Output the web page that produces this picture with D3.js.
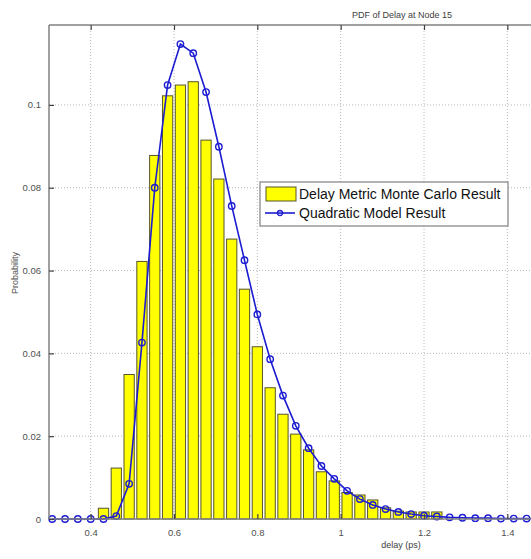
<!DOCTYPE html>
<html>
<head>
<meta charset="utf-8">
<script src="https://cdn.jsdelivr.net/npm/d3@7"></script>
<style>
  html, body { margin: 0; padding: 0; background: #fff; overflow: hidden; }
  svg { display: block; }
</style>
</head>
<body>
<div id="chart"></div>
<script>
// bin centres shared by the histogram and the model curve
const binCenters = [
  0.3077, 0.3385, 0.3692, 0.4000, 0.4308, 0.4615, 0.4923, 0.5231, 0.5538, 0.5846,
  0.6154, 0.6462, 0.6769, 0.7077, 0.7385, 0.7692, 0.8000, 0.8308, 0.8615, 0.8923,
  0.9231, 0.9538, 0.9846, 1.0154, 1.0462, 1.0769, 1.1077, 1.1385, 1.1692, 1.2000,
  1.2308, 1.2615, 1.2923, 1.3231, 1.3538, 1.3846, 1.4154, 1.4462, 1.4769
];
const monteCarlo = [
  0, 0, 0, 0, 0.0026, 0.0123, 0.0349, 0.0622, 0.0878, 0.1022,
  0.1048, 0.1056, 0.0915, 0.0821, 0.0676, 0.0555, 0.0416, 0.0317, 0.0253, 0.0205,
  0.0167, 0.0114, 0.0092, 0.0064, 0.0058, 0.0046, 0.0027, 0.0019, 0.0017, 0.0017,
  0.0017, 0, 0, 0, 0, 0, 0, 0, 0
];
const quadratic = [
  0, 0, 0, 0, 0, 0.0007, 0.0085, 0.0426, 0.0800, 0.1048,
  0.1147, 0.1125, 0.1031, 0.0899, 0.0756, 0.0625, 0.0494, 0.0386, 0.0298, 0.0225,
  0.0171, 0.0128, 0.0097, 0.0068, 0.0048, 0.0034, 0.0024, 0.0017, 0.0012, 0.0008,
  0.0006, 0.0004, 0.0003, 0.0002, 0.0002, 0.0001, 0.0001, 0.0001, 0
];
const xTicks = [0.4, 0.6, 0.8, 1.0, 1.2, 1.4];
const xTickLabels = ['0.4', '0.6', '0.8', '1', '1.2', '1.4'];
const yTicks = [0, 0.02, 0.04, 0.06, 0.08, 0.1];
const yTickLabels = ['0', '0.02', '0.04', '0.06', '0.08', '0.1'];
const seriesNames = ['Delay Metric Monte Carlo Result', 'Quadratic Model Result'];

const width = 531;
const height = 559;
const margin = { top: 25, right: -18, bottom: 40, left: 49 };
const binWidth = 0.03077;
const blue = '#1c1cd2';

const svg = d3.select('#chart')
  .append('svg')
  .attr('width', width)
  .attr('height', height)
  .style('font-family', 'Arial, "Liberation Sans", sans-serif');

const x = d3.scaleLinear().domain([0.3, 1.5]).range([margin.left, width - margin.right]);
const y = d3.scaleLinear().domain([0, 0.1193]).range([height - margin.bottom, margin.top]);

// dotted grid
const grid = svg.append('g');
grid.selectAll('.vgrid')
  .data(xTicks)
  .enter()
  .append('line')
  .attr('x1', (d) => x(d)).attr('x2', (d) => x(d))
  .attr('y1', y.range()[1]).attr('y2', y.range()[0])
  .attr('stroke', '#b8b8b8')
  .attr('stroke-width', 1)
  .attr('stroke-dasharray', '1,2');
grid.selectAll('.hgrid')
  .data(yTicks.slice(1))
  .enter()
  .append('line')
  .attr('x1', x.range()[0]).attr('x2', x.range()[1])
  .attr('y1', (d) => y(d)).attr('y2', (d) => y(d))
  .attr('stroke', '#b8b8b8')
  .attr('stroke-width', 1)
  .attr('stroke-dasharray', '1,2');

// histogram bars
const bars = binCenters.map((c, i) => ({ c, v: monteCarlo[i] })).filter((d) => d.v > 0);
svg.append('g')
  .selectAll('rect')
  .data(bars)
  .enter()
  .append('rect')
  .attr('x', (d) => x(d.c - binWidth * 0.4))
  .attr('width', (d) => x(d.c + binWidth * 0.4) - x(d.c - binWidth * 0.4))
  .attr('y', (d) => y(d.v))
  .attr('height', (d) => y(0) - y(d.v))
  .attr('fill', '#ffff00')
  .attr('stroke', '#55552a')
  .attr('stroke-width', 1);

// model curve
const pts = binCenters.map((c, i) => [c, quadratic[i]]);
const line = d3.line().x((d) => x(d[0])).y((d) => y(d[1]));
svg.append('path')
  .datum(pts)
  .attr('d', line)
  .attr('fill', 'none')
  .attr('stroke', blue)
  .attr('stroke-width', 1.6);
svg.append('g')
  .selectAll('circle')
  .data(pts)
  .enter()
  .append('circle')
  .attr('cx', (d) => x(d[0]))
  .attr('cy', (d) => y(d[1]))
  .attr('r', 3.2)
  .attr('fill', 'none')
  .attr('stroke', blue)
  .attr('stroke-width', 1.4);

// axes box (MATLAB style, inward ticks)
const axisColor = '#808080';
svg.append('line')
  .attr('x1', x.range()[0]).attr('x2', x.range()[0])
  .attr('y1', y.range()[1]).attr('y2', y.range()[0])
  .attr('stroke', axisColor).attr('stroke-width', 1.5);
svg.append('line')
  .attr('x1', x.range()[0]).attr('x2', x.range()[1])
  .attr('y1', y.range()[1]).attr('y2', y.range()[1])
  .attr('stroke', axisColor).attr('stroke-width', 1.5);
svg.append('line')
  .attr('x1', x.range()[0]).attr('x2', x.range()[1])
  .attr('y1', y.range()[0]).attr('y2', y.range()[0])
  .attr('stroke', axisColor).attr('stroke-width', 1.5);

const xAxisBottom = d3.axisBottom(x).tickValues(xTicks).tickSizeInner(-5).tickSizeOuter(0)
  .tickPadding(10).tickFormat((d, i) => xTickLabels[i]);
const gxb = svg.append('g')
  .attr('transform', `translate(0,${y.range()[0]})`)
  .call(xAxisBottom);
const xAxisTop = d3.axisTop(x).tickValues(xTicks).tickSizeInner(-5).tickSizeOuter(0).tickFormat('');
const gxt = svg.append('g')
  .attr('transform', `translate(0,${y.range()[1]})`)
  .call(xAxisTop);
const yAxis = d3.axisLeft(y).tickValues(yTicks).tickSizeInner(-5).tickSizeOuter(0)
  .tickPadding(8).tickFormat((d, i) => yTickLabels[i]);
const gy = svg.append('g')
  .attr('transform', `translate(${x.range()[0]},0)`)
  .call(yAxis);

[gxb, gxt, gy].forEach((g) => {
  g.select('.domain').remove();
  g.selectAll('.tick line').attr('stroke', '#404040').attr('stroke-width', 1.2);
  g.selectAll('.tick text')
    .attr('fill', '#505050')
    .style('font-size', '9.5px');
});

// titles
svg.append('text')
  .attr('x', 402).attr('y', 18)
  .attr('text-anchor', 'middle')
  .attr('fill', '#404040')
  .style('font-size', '9px')
  .text('PDF of Delay at Node 15');
svg.append('text')
  .attr('x', 401).attr('y', 548)
  .attr('text-anchor', 'middle')
  .attr('fill', '#404040')
  .style('font-size', '9px')
  .text('delay (ps)');
svg.append('text')
  .attr('transform', 'translate(18,273) rotate(-90)')
  .attr('text-anchor', 'middle')
  .attr('fill', '#505050')
  .style('font-size', '9px')
  .text('Probability');

// legend
const lg = svg.append('g').attr('transform', 'translate(260,182)');
lg.append('rect')
  .attr('width', 248).attr('height', 44)
  .attr('fill', '#fff')
  .attr('stroke', '#808080')
  .attr('stroke-width', 1.2);
lg.append('rect')
  .attr('x', 6).attr('y', 5).attr('width', 30).attr('height', 14)
  .attr('fill', '#ffff00')
  .attr('stroke', '#55552a');
lg.append('line')
  .attr('x1', 5).attr('x2', 35).attr('y1', 31).attr('y2', 31)
  .attr('stroke', blue).attr('stroke-width', 1.6);
lg.append('circle')
  .attr('cx', 20).attr('cy', 31).attr('r', 2.5)
  .attr('fill', 'none').attr('stroke', blue).attr('stroke-width', 1.3);
lg.selectAll('.lt')
  .data(seriesNames)
  .enter()
  .append('text')
  .attr('x', 39)
  .attr('y', (d, i) => 17 + i * 19)
  .attr('fill', '#111')
  .style('font-size', '14px')
  .text((d) => d);
</script>
</body>
</html>
